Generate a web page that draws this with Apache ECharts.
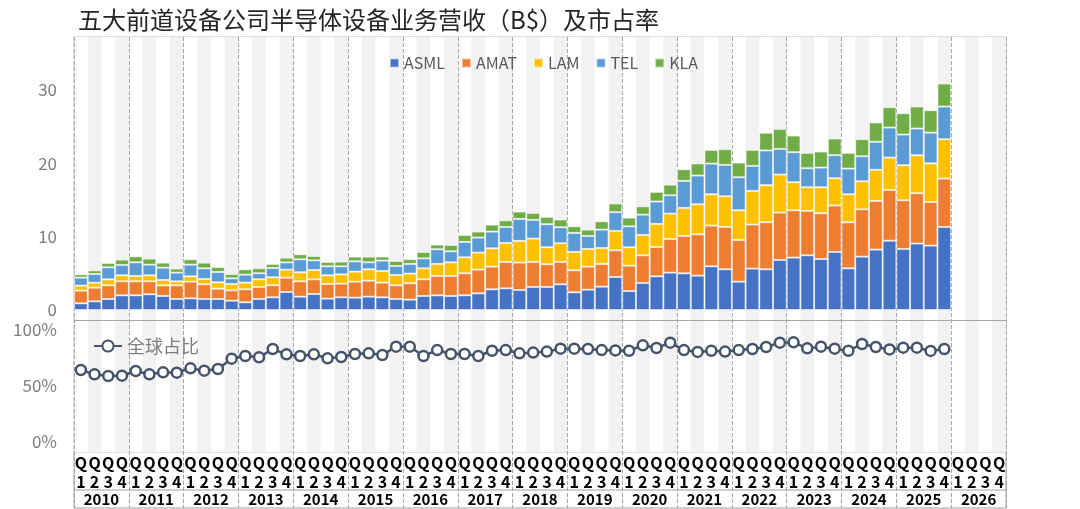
<!DOCTYPE html>
<html>
<head>
<meta charset="utf-8">
<script src="https://cdn.jsdelivr.net/npm/echarts@6/dist/echarts.min.js"></script>
<style>
html, body { margin: 0; padding: 0; background: #fff; }
#main { width: 1080px; height: 509px; }
</style>
</head>
<body>
<div id="main"></div>
<script>
var FONT = 'Noto Sans CJK SC';

var color = [
	'#4472C4',   // ASML
	'#ED7D31',   // AMAT
	'#FFC000',   // LAM
	'#5B9BD5',   // TEL
	'#70AD47',   // KLA
	'#44546A'    // 全球占比
];

var years = ['2010','2011','2012','2013','2014','2015','2016','2017','2018',
	'2019','2020','2021','2022','2023','2024','2025','2026'];
var quarterNames = ['1','2','3','4'];
var companies = ['ASML','AMAT','LAM','TEL','KLA'];

// 单位 B$，2010Q1 ~ 2025Q4
var asml = [0.91,1.18,1.50,2.00, 2.00,2.14,1.91,1.50, 1.59,1.50,1.50,1.27, 1.05,1.50,1.73,2.45,
	1.82,2.18,1.55,1.73, 1.68,1.82,1.73,1.50, 1.41,1.91,2.00,1.91, 2.00,2.27,2.82,2.95,
	2.73,3.14,3.14,3.50, 2.41,2.77,3.18,4.50, 2.59,3.68,4.59,5.09, 5.00,4.68,5.95,5.55,
	3.86,5.64,5.55,6.82, 7.14,7.45,6.95,7.91, 5.68,7.27,8.23,9.45, 8.32,9.05,8.77,11.32];
var amat = [1.73,1.86,1.86,1.91, 1.91,1.77,1.45,1.86, 2.27,2.00,1.41,1.41, 1.77,1.64,1.64,1.95,
	2.09,2.00,2.00,1.86, 2.18,2.18,2.00,1.86, 2.23,2.27,2.64,2.73, 3.00,3.23,3.09,3.59,
	3.73,3.41,3.09,3.05, 3.00,3.14,3.09,3.64, 3.45,3.77,4.00,4.59, 5.09,5.64,5.55,5.77,
	5.68,6.00,6.41,6.45, 6.45,6.05,6.23,6.32, 6.27,6.45,6.64,6.91, 6.64,6.86,5.95,6.59];
var lam = [0.68,0.68,0.82,0.82, 0.73,0.82,0.73,0.55, 0.73,0.73,0.86,0.86, 0.91,1.05,1.09,1.09,
	1.23,1.27,1.18,1.27, 1.36,1.55,1.59,1.41, 1.32,1.50,1.64,1.86, 2.18,2.32,2.50,2.59,
	2.95,3.18,2.32,2.55, 2.50,2.41,2.18,2.64, 2.50,2.77,3.14,3.45, 3.82,4.09,4.27,4.18,
	4.05,4.59,5.05,5.18, 3.82,3.23,3.55,3.73, 3.82,3.82,4.23,4.41, 4.77,5.18,5.27,5.36];
var tel = [1.09,1.18,1.64,1.41, 1.86,1.45,1.68,1.18, 1.59,1.45,1.41,0.77, 1.09,0.82,1.27,1.00,
	1.77,1.32,1.23,1.09, 1.41,0.95,1.41,1.23, 1.32,1.36,2.00,1.50, 2.09,2.05,2.27,2.18,
	3.00,2.55,3.14,2.18, 2.59,1.77,2.50,2.55, 2.86,2.77,3.05,2.50, 3.68,3.91,4.18,4.27,
	4.50,3.41,4.73,3.50, 4.09,2.59,2.68,3.14, 3.50,3.41,3.82,4.09, 4.18,3.64,4.18,4.45];
var kla = [0.45,0.50,0.59,0.73, 0.82,0.82,0.68,0.55, 0.73,0.77,0.68,0.59, 0.73,0.68,0.55,0.64,
	0.68,0.59,0.59,0.64, 0.64,0.77,0.55,0.68, 0.64,0.86,0.64,0.86, 0.95,0.82,0.95,0.91,
	1.00,0.95,1.00,1.05, 0.91,0.86,1.14,1.18, 1.18,1.14,1.32,1.45, 1.59,1.64,1.86,2.14,
	2.00,2.18,2.41,2.73, 2.27,2.09,2.18,2.27, 2.14,2.32,2.64,2.77, 2.91,3.00,3.05,3.14];
// 全球占比 %
var share = [64.3,60.4,58.9,59.2, 63.4,60.4,62.2,61.9, 65.8,63.7,65.2,74.4, 76.8,75.6,83.0,78.3,
	76.8,78.3,74.7,75.9, 78.6,79.2,77.7,85.1, 85.1,76.8,82.1,78.6, 78.6,76.8,81.5,82.1,
	79.2,79.8,80.7,83.3, 83.3,83.0,82.1,81.8, 81.5,86.3,83.9,88.7, 82.1,80.4,81.5,80.7,
	82.1,83.0,84.8,88.7, 89.0,83.6,85.1,83.3, 81.5,87.5,84.8,82.7, 84.2,84.2,81.3,83.0];

// 季度类目 2010Q1 ... 2026Q4
var quarters = [];
for (var i = 0; i < years.length; i++)
	for (var j = 0; j < quarterNames.length; j++)
		quarters.push(years[i] + 'Q' + quarterNames[j]);

var revenue = [asml, amat, lam, tel, kla];

var L = 74, R = 74;   // 绘图区左右边距
function hiddenY(g){
	return { type: 'value', gridIndex: g, show: false };
}
function plainX(g, data){
	return {
		type: 'category', gridIndex: g, data: data,
		axisLine: { show: false }, axisTick: { show: false }, axisLabel: { show: false }
	};
}

var xBand = plainX(0, quarters);
xBand.splitArea = { show: true, interval: 0, areaStyle: { color: ['#ffffff', '#f2f2f2'] } };
xBand.z = 0;

var xYear = plainX(1, years);
xYear.splitLine = { show: true, interval: 0, lineStyle: { color: '#a6a6a6', type: 'dashed', width: 1 } };
xYear.z = 1;

var xQLabel = plainX(4, quarters);
xQLabel.position = 'top';
xQLabel.axisLabel = {
	show: true, inside: true, interval: 0, margin: 1,
	fontFamily: FONT, fontSize: 16, fontWeight: 'bold', color: '#000', lineHeight: 19,
	formatter: function(v){ return 'Q\n' + v.slice(-1); }
};

var xYLabel = plainX(5, years);
xYLabel.axisLabel = {
	show: true, inside: true, interval: 0, margin: 1,
	fontFamily: FONT, fontSize: 15, fontWeight: 'bold', color: '#000'
};

var series = [];
for (var k = 0; k < companies.length; k++) {
	series.push({
		name: companies[k],
		type: 'bar',
		stack: 'rev',
		xAxisIndex: 2, yAxisIndex: 2,
		barWidth: '100%',
		itemStyle: { color: color[k], borderColor: 'rgba(255,255,255,0.55)', borderWidth: 1 },
		data: revenue[k]
	});
}
series.push({
	name: '全球占比',
	type: 'line',
	xAxisIndex: 3, yAxisIndex: 3,
	symbol: 'circle',
	symbolSize: 10,
	showSymbol: true,
	showAllSymbol: true,
	lineStyle: { color: color[5], width: 2.5 },
	itemStyle: { color: '#ffffff', borderColor: color[5], borderWidth: 2.5 },
	z: 5,
	data: share
});

var chart = echarts.init(document.getElementById('main'));
chart.setOption({
	animation: false,
	backgroundColor: '#ffffff',
	title: {
		text: '五大前道设备公司半导体设备业务营收（B$）及市占率',
		left: 78, top: 8, padding: 0,
		textStyle: { fontFamily: FONT, fontSize: 24, fontWeight: 'normal', color: '#262626' }
	},
	legend: [
		{
			data: companies,
			left: 384, top: 50,
			icon: 'rect', itemWidth: 9, itemHeight: 9, itemGap: 16,
			textStyle: { fontFamily: FONT, fontSize: 16, color: '#595959' }
		},
		{
			data: ['全球占比'],
			left: 88, top: 332,
			itemWidth: 28, itemHeight: 14,
			textStyle: { fontFamily: FONT, fontSize: 18, color: '#7f7f7f' }
		}
	],
	grid: [
		{ left: L, right: R, top: 37, bottom: 57 },                                   // 灰白条纹
		{ left: L, right: R, top: 37, bottom: 1, show: true, borderColor: '#bfbfbf' }, // 年份分隔线
		{ left: L, right: R, top: 37, bottom: 199 },                                  // 柱状图
		{ left: L, right: R, top: 330, bottom: 67 },                                  // 占比折线
		{ left: L, right: R, top: 452, bottom: 19, show: true, borderColor: '#bfbfbf' }, // 季度标签
		{ left: L, right: R, top: 490, bottom: 1, show: true, borderColor: '#bfbfbf' }   // 年份标签
	],
	xAxis: [
		xBand,
		xYear,
		plainX(2, quarters),
		plainX(3, quarters),
		xQLabel,
		xYLabel
	],
	yAxis: [
		hiddenY(0),
		hiddenY(1),
		{
			type: 'value', gridIndex: 2,
			min: 0, max: 37.2, interval: 10,
			axisLine: { show: false }, axisTick: { show: false }, splitLine: { show: false },
			axisLabel: { showMaxLabel: false, margin: 17, fontFamily: FONT, fontSize: 17, color: '#7f7f7f' }
		},
		{
			type: 'value', gridIndex: 3,
			min: 0, max: 100, interval: 50,
			axisLine: { show: false }, axisTick: { show: false }, splitLine: { show: false },
			axisLabel: { margin: 17, fontFamily: FONT, fontSize: 17, color: '#7f7f7f', formatter: '{value}%' }
		},
		hiddenY(4),
		hiddenY(5)
	],
	graphic: [
		{	// 上下两部分之间的分隔线
			type: 'line', z: 10,
			shape: { x1: L, y1: 320.5, x2: 1080 - R, y2: 320.5 },
			style: { stroke: '#a6a6a6', lineWidth: 1 }
		}
	],
	series: series
});
</script>
</body>
</html>
